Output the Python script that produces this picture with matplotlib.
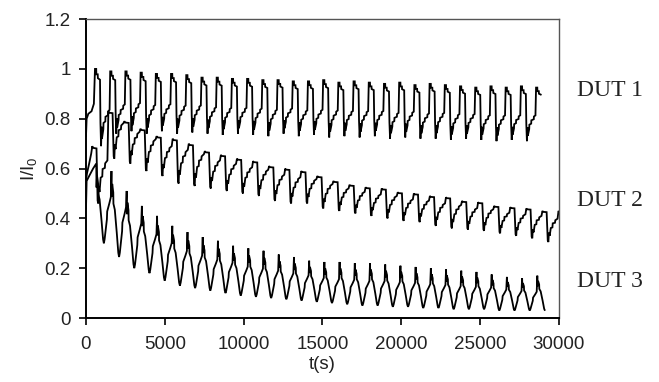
import numpy as np
import matplotlib.pyplot as plt

plt.rcParams['font.family'] = ['Liberation Sans', 'DejaVu Sans']
plt.rcParams['mathtext.default'] = 'regular'

# --- cycling data: per-cycle peak and low of the normalised current ---
# DUT 1
DUT1_T0, DUT1_PERIOD, DUT1_END = 570, 965, 28850
DUT1_LEAD_T = [0, 40, 150, 350, 500]
DUT1_LEAD_V = [0.73, 0.80, 0.82, 0.83, 0.86]
DUT1_PEAK = [1.00, 0.99, 0.99, 0.985, 0.98, 0.98, 0.975, 0.965, 0.965, 0.96,
             0.96, 0.955, 0.955, 0.95, 0.95, 0.955, 0.945, 0.95, 0.945, 0.94,
             0.945, 0.935, 0.94, 0.935, 0.93, 0.925, 0.93, 0.925, 0.93, 0.925]
DUT1_LOW = [0.69, 0.74, 0.75, 0.74, 0.75, 0.74, 0.745, 0.74, 0.735, 0.74,
            0.735, 0.73, 0.74, 0.73, 0.735, 0.725, 0.73, 0.725, 0.73, 0.72,
            0.725, 0.72, 0.72, 0.715, 0.72, 0.715, 0.71, 0.715, 0.71, 0.72]

# DUT 2
DUT2_T0, DUT2_PERIOD, DUT2_END = 400, 1020, 30000
DUT2_LEAD_T = [0, 60, 200, 330]
DUT2_LEAD_V = [0.55, 0.58, 0.62, 0.66]
DUT2_PEAK = [0.69, 0.83, 0.79, 0.76, 0.73, 0.72, 0.70, 0.67, 0.655, 0.64,
             0.63, 0.61, 0.60, 0.59, 0.57, 0.55, 0.535, 0.525, 0.52, 0.505,
             0.50, 0.49, 0.485, 0.47, 0.465, 0.45, 0.445, 0.44, 0.43, 0.43]
DUT2_LOW = [0.46, 0.64, 0.62, 0.59, 0.57, 0.54, 0.53, 0.52, 0.51, 0.50,
            0.49, 0.47, 0.46, 0.46, 0.44, 0.43, 0.42, 0.41, 0.40, 0.39,
            0.385, 0.37, 0.36, 0.355, 0.35, 0.34, 0.33, 0.32, 0.305, 0.30]

# DUT 3
DUT3_T0, DUT3_PERIOD, DUT3_END = 650, 965, 29100
DUT3_LEAD_T = [0, 40, 200, 450]
DUT3_LEAD_V = [0.44, 0.55, 0.57, 0.60]
DUT3_PEAK = [0.62, 0.59, 0.51, 0.45, 0.41, 0.37, 0.345, 0.325, 0.31, 0.29,
             0.28, 0.27, 0.255, 0.245, 0.23, 0.225, 0.225, 0.22, 0.22, 0.215,
             0.21, 0.205, 0.20, 0.195, 0.19, 0.185, 0.175, 0.165, 0.16, 0.17]
DUT3_LOW = [0.30, 0.245, 0.20, 0.18, 0.15, 0.13, 0.12, 0.11, 0.10, 0.09,
            0.085, 0.08, 0.075, 0.07, 0.065, 0.06, 0.055, 0.05, 0.05, 0.045,
            0.045, 0.04, 0.04, 0.035, 0.035, 0.035, 0.03, 0.03, 0.03, 0.03]

# waveform of one cycle: (phase, fraction between low and peak)
SHAPE1 = [(0.00, 1.00), (0.08, 1.00), (0.09, 0.93), (0.18, 0.93), (0.19, 0.88),
          (0.33, 0.86), (0.36, 0.30), (0.40, 0.00), (0.44, 0.25), (0.46, 0.10),
          (0.55, 0.22), (0.56, 0.30), (0.68, 0.32), (0.69, 0.38), (0.85, 0.40),
          (0.86, 0.45), (0.96, 0.47)]
SHAPE2 = [(0.00, 1.00), (0.04, 0.97), (0.26, 0.96), (0.28, 0.70), (0.33, 0.05),
          (0.37, 0.00), (0.40, 0.30), (0.45, 0.20), (0.52, 0.45), (0.62, 0.47),
          (0.64, 0.60), (0.78, 0.62), (0.80, 0.70), (0.94, 0.75)]
SHAPE3 = [(0.00, 1.00), (0.02, 0.70), (0.05, 0.85), (0.12, 0.75), (0.13, 0.62),
          (0.22, 0.55), (0.35, 0.28), (0.45, 0.05), (0.50, 0.00), (0.55, 0.05),
          (0.70, 0.30), (0.72, 0.40), (0.86, 0.50), (0.96, 0.58)]


def build_trace(t0, period, peaks, lows, shape, lead_t, lead_v, t_end):
    t = list(lead_t)
    v = list(lead_v)
    for k, (p, b) in enumerate(zip(peaks, lows)):
        start = t0 + k * period
        for ph, w in shape:
            t.append(start + ph * period)
            v.append(b + w * (p - b))
    t = np.array(t)
    v = np.array(v)
    keep = t < t_end
    v_end = np.interp(t_end, t, v)
    return np.append(t[keep], t_end), np.append(v[keep], v_end)


fig = plt.figure(figsize=(6.59, 3.82), dpi=100)
ax = fig.add_axes([0.1305, 0.1675, 0.7175, 0.7825])

traces = [
    (DUT1_T0, DUT1_PERIOD, DUT1_PEAK, DUT1_LOW, SHAPE1, DUT1_LEAD_T, DUT1_LEAD_V, DUT1_END),
    (DUT2_T0, DUT2_PERIOD, DUT2_PEAK, DUT2_LOW, SHAPE2, DUT2_LEAD_T, DUT2_LEAD_V, DUT2_END),
    (DUT3_T0, DUT3_PERIOD, DUT3_PEAK, DUT3_LOW, SHAPE3, DUT3_LEAD_T, DUT3_LEAD_V, DUT3_END),
]
for args in traces:
    t, v = build_trace(*args)
    ax.plot(t, v, color='black', lw=1.3, solid_joinstyle='miter')

ax.set_xlim(0, 30000)
ax.set_ylim(0, 1.2)
ax.set_xticks(np.arange(0, 30001, 5000))
ax.set_yticks([0, 0.2, 0.4, 0.6, 0.8, 1.0, 1.2])
ax.set_yticklabels(['0', '0.2', '0.4', '0.6', '0.8', '1', '1.2'])
ax.tick_params(direction='out', length=5, width=1.2, labelsize=13.5,
               labelcolor='#222222', top=False, right=False)
ax.tick_params(axis='x', pad=8)
ax.tick_params(axis='y', pad=6)

for side in ['left', 'bottom']:
    ax.spines[side].set_linewidth(1.4)
    ax.spines[side].set_color('black')
for side in ['top', 'right']:
    ax.spines[side].set_linewidth(1.0)
    ax.spines[side].set_color('#555555')

ax.set_xlabel('t(s)', fontsize=13.5, color='#222222', labelpad=2)
ax.set_ylabel('I/I$_0$', fontsize=13.5, color='#222222', labelpad=4)

labels = ['DUT 1', 'DUT 2', 'DUT 3']
label_y = [0.764, 0.476, 0.262]
for name, y in zip(labels, label_y):
    fig.text(0.8756, y, name, fontsize=17, family='Liberation Serif',
             color='#222222', va='center', ha='left')

fig.savefig('out.png', dpi=100)
